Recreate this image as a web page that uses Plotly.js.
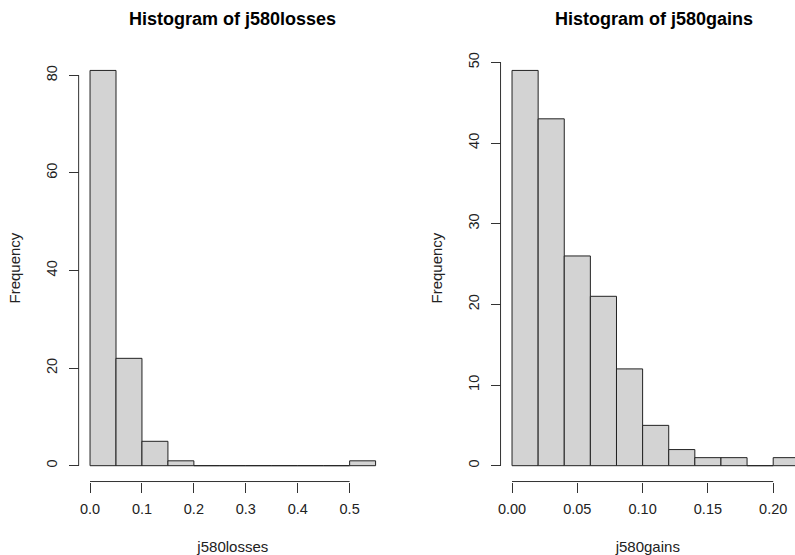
<!DOCTYPE html>
<html>
<head>
<meta charset="utf-8">
<script src="https://cdn.plot.ly/plotly-3.0.1.min.js"></script>
<style>html,body{margin:0;padding:0;background:#fff;}#chart{width:795px;height:555px;}</style>
</head>
<body>
<div id="chart"></div>
<script>
// Data
const lossBreaks = [0, 0.05, 0.10, 0.15, 0.20, 0.25, 0.30, 0.35, 0.40, 0.45, 0.50, 0.55];
const lossCounts = [81, 22, 5, 1, 0, 0, 0, 0, 0, 0, 1];
const lossXTicks = [0, 0.1, 0.2, 0.3, 0.4, 0.5];
const lossYTicks = [0, 20, 40, 60, 80];

const gainBreaks = [0, 0.02, 0.04, 0.06, 0.08, 0.10, 0.12, 0.14, 0.16, 0.18, 0.20, 0.22];
const gainCounts = [49, 43, 26, 21, 12, 5, 2, 1, 1, 0, 1];
const gainXTicks = [0, 0.05, 0.10, 0.15, 0.20];
const gainYTicks = [0, 10, 20, 30, 40, 50];

function mids(b){ return b.slice(0,-1).map((v,i)=>(v+b[i+1])/2); }
function widths(b){ return b.slice(0,-1).map((v,i)=>b[i+1]-v); }

const barStyle = {color:'#D3D3D3', line:{color:'#222', width:1}};

const traces = [
  {type:'bar', x:mids(lossBreaks), y:lossCounts, width:widths(lossBreaks), marker:barStyle, xaxis:'x', yaxis:'y', hoverinfo:'x+y'},
  {type:'bar', x:mids(gainBreaks), y:gainCounts, width:widths(gainBreaks), marker:barStyle, xaxis:'x2', yaxis:'y2', hoverinfo:'x+y'}
];

const fam = '"Liberation Sans", Arial, sans-serif';
const tickFont = {family:fam, size:14.5, color:'#222'};
const titleFont = {family:fam, size:15, color:'#222'};
const yDom = [0.1324, 0.9016];
const d1 = [0.0989, 0.4868];
const d2 = [0.6296, 1.0];

function xax(dom, range, ticks, fmt, title){
  return {domain:dom, range:range, tickvals:ticks, tickformat:fmt, ticks:'outside', ticklen:10, tickwidth:1, tickcolor:'#333',
    showline:false, zeroline:false, showgrid:false, fixedrange:true, tickfont:tickFont, anchor:'free', position:yDom[0],
    ticklabelstandoff:4,
    title:{text:title, font:titleFont, standoff:26}};
}
function yax(range, ticks, anchorX){
  return {domain:yDom, range:range, tickvals:ticks, ticks:'outside', ticklen:10, tickwidth:1, tickcolor:'#333',
    showline:false, zeroline:false, showgrid:false, fixedrange:true, tickfont:tickFont, tickangle:-90,
    anchor:'free', position:anchorX, ticklabelstandoff:6,
    title:{text:'Frequency', font:titleFont, standoff:18}};
}

const shapes = [];
function axisLines(xref, yref, xt, yt, xd){
  shapes.push({type:'line', xref:xref, yref:'paper', x0:xt[0], x1:xt[xt.length-1], y0:yDom[0], y1:yDom[0], line:{color:'#333', width:1}});
  shapes.push({type:'line', xref:'paper', yref:yref, x0:xd[0], x1:xd[0], y0:yt[0], y1:yt[yt.length-1], line:{color:'#333', width:1}});
}
axisLines('x','y', lossXTicks, lossYTicks, d1);
axisLines('x2','y2', gainXTicks, gainYTicks, d2);

const lossMax = Math.max(...lossCounts);
const gainMax = Math.max(...gainCounts);
const mainFont = {family:fam, size:18, color:'#000'};
const layout = {
  width:795, height:555, margin:{l:0,r:0,t:0,b:0}, paper_bgcolor:'#fff', plot_bgcolor:'#fff',
  showlegend:false, bargap:0, font:tickFont,
  xaxis: xax(d1, [-0.022, 0.572], lossXTicks, '.1f', 'j580losses'),
  yaxis: yax([-0.04*lossMax, 1.04*lossMax], lossYTicks, d1[0]),
  xaxis2: xax(d2, [-0.0088, 0.2167], gainXTicks, '.2f', 'j580gains'),
  yaxis2: yax([-0.04*gainMax, 1.04*gainMax], gainYTicks, d2[0]),
  shapes: shapes,
  annotations: [
    {text:'<b>Histogram of j580losses</b>', xref:'paper', yref:'paper', x:(d1[0]+d1[1])/2, y:1-19/555, xanchor:'center', yanchor:'middle', showarrow:false, font:mainFont},
    {text:'<b>Histogram of j580gains</b>', xref:'paper', yref:'paper', x:0.8230, y:1-19/555, xanchor:'center', yanchor:'middle', showarrow:false, font:mainFont}
  ]
};
Plotly.newPlot('chart', traces, layout, {displayModeBar:false, staticPlot:true});
</script>
</body>
</html>
